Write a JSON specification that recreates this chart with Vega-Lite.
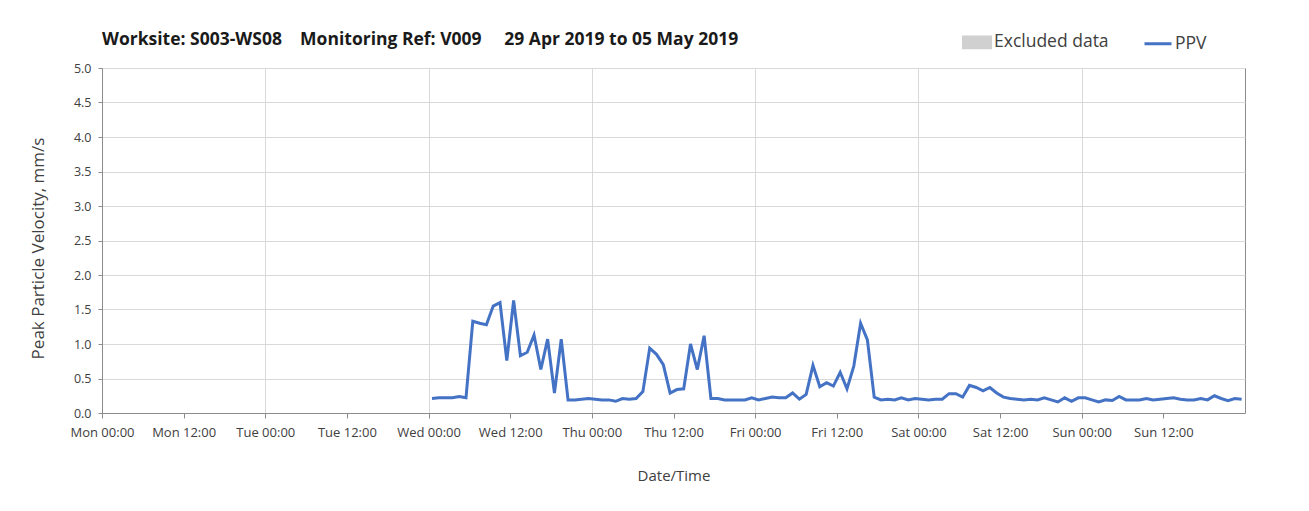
{
  "$schema": "https://vega.github.io/schema/vega-lite/v6.json",
  "autosize": "none",
  "width": 1143,
  "height": 345,
  "padding": {"left": 102, "top": 68, "right": 64, "bottom": 98},
  "background": "white",
  "config": {
    "font": "Open Sans",
    "view": {"stroke": "#8c8c8c", "strokeWidth": 1},
    "axis": {
      "domainColor": "#8c8c8c",
      "tickColor": "#8c8c8c",
      "gridColor": "#d9d9d9",
      "labelColor": "#404040",
      "titleColor": "#404040",
      "labelFont": "Open Sans",
      "titleFont": "Open Sans",
      "titleFontWeight": "normal"
    }
  },
  "title": {
    "text": "Worksite: S003-WS08\u00a0\u00a0\u00a0\u00a0Monitoring Ref: V009\u00a0\u00a0\u00a0\u00a0\u00a029 Apr 2019 to 05 May 2019",
    "anchor": "start",
    "frame": "group",
    "font": "Open Sans",
    "fontSize": 17.5,
    "fontWeight": "bold",
    "color": "#1a1a1a",
    "offset": -21
  },
  "data": {
    "values": [
      {"t": "2019-05-01T00:30:00", "v": 0.21},
      {"t": "2019-05-01T01:30:00", "v": 0.22},
      {"t": "2019-05-01T02:30:00", "v": 0.22},
      {"t": "2019-05-01T03:30:00", "v": 0.22},
      {"t": "2019-05-01T04:30:00", "v": 0.24},
      {"t": "2019-05-01T05:30:00", "v": 0.22},
      {"t": "2019-05-01T06:30:00", "v": 1.33},
      {"t": "2019-05-01T07:30:00", "v": 1.30},
      {"t": "2019-05-01T08:30:00", "v": 1.28},
      {"t": "2019-05-01T09:30:00", "v": 1.55},
      {"t": "2019-05-01T10:30:00", "v": 1.60},
      {"t": "2019-05-01T11:30:00", "v": 0.76},
      {"t": "2019-05-01T12:30:00", "v": 1.63},
      {"t": "2019-05-01T13:30:00", "v": 0.83},
      {"t": "2019-05-01T14:30:00", "v": 0.88},
      {"t": "2019-05-01T15:30:00", "v": 1.13},
      {"t": "2019-05-01T16:30:00", "v": 0.63},
      {"t": "2019-05-01T17:30:00", "v": 1.07},
      {"t": "2019-05-01T18:30:00", "v": 0.29},
      {"t": "2019-05-01T19:30:00", "v": 1.07},
      {"t": "2019-05-01T20:30:00", "v": 0.19},
      {"t": "2019-05-01T21:30:00", "v": 0.19},
      {"t": "2019-05-01T22:30:00", "v": 0.20},
      {"t": "2019-05-01T23:30:00", "v": 0.21},
      {"t": "2019-05-02T00:30:00", "v": 0.20},
      {"t": "2019-05-02T01:30:00", "v": 0.19},
      {"t": "2019-05-02T02:30:00", "v": 0.19},
      {"t": "2019-05-02T03:30:00", "v": 0.17},
      {"t": "2019-05-02T04:30:00", "v": 0.21},
      {"t": "2019-05-02T05:30:00", "v": 0.20},
      {"t": "2019-05-02T06:30:00", "v": 0.21},
      {"t": "2019-05-02T07:30:00", "v": 0.31},
      {"t": "2019-05-02T08:30:00", "v": 0.94},
      {"t": "2019-05-02T09:30:00", "v": 0.85},
      {"t": "2019-05-02T10:30:00", "v": 0.70},
      {"t": "2019-05-02T11:30:00", "v": 0.29},
      {"t": "2019-05-02T12:30:00", "v": 0.34},
      {"t": "2019-05-02T13:30:00", "v": 0.35},
      {"t": "2019-05-02T14:30:00", "v": 1.00},
      {"t": "2019-05-02T15:30:00", "v": 0.63},
      {"t": "2019-05-02T16:30:00", "v": 1.12},
      {"t": "2019-05-02T17:30:00", "v": 0.21},
      {"t": "2019-05-02T18:30:00", "v": 0.21},
      {"t": "2019-05-02T19:30:00", "v": 0.19},
      {"t": "2019-05-02T20:30:00", "v": 0.19},
      {"t": "2019-05-02T21:30:00", "v": 0.19},
      {"t": "2019-05-02T22:30:00", "v": 0.19},
      {"t": "2019-05-02T23:30:00", "v": 0.22},
      {"t": "2019-05-03T00:30:00", "v": 0.19},
      {"t": "2019-05-03T01:30:00", "v": 0.21},
      {"t": "2019-05-03T02:30:00", "v": 0.23},
      {"t": "2019-05-03T03:30:00", "v": 0.22},
      {"t": "2019-05-03T04:30:00", "v": 0.22},
      {"t": "2019-05-03T05:30:00", "v": 0.29},
      {"t": "2019-05-03T06:30:00", "v": 0.20},
      {"t": "2019-05-03T07:30:00", "v": 0.27},
      {"t": "2019-05-03T08:30:00", "v": 0.69},
      {"t": "2019-05-03T09:30:00", "v": 0.38},
      {"t": "2019-05-03T10:30:00", "v": 0.44},
      {"t": "2019-05-03T11:30:00", "v": 0.39},
      {"t": "2019-05-03T12:30:00", "v": 0.59},
      {"t": "2019-05-03T13:30:00", "v": 0.35},
      {"t": "2019-05-03T14:30:00", "v": 0.68},
      {"t": "2019-05-03T15:30:00", "v": 1.30},
      {"t": "2019-05-03T16:30:00", "v": 1.06},
      {"t": "2019-05-03T17:30:00", "v": 0.23},
      {"t": "2019-05-03T18:30:00", "v": 0.19},
      {"t": "2019-05-03T19:30:00", "v": 0.20},
      {"t": "2019-05-03T20:30:00", "v": 0.19},
      {"t": "2019-05-03T21:30:00", "v": 0.22},
      {"t": "2019-05-03T22:30:00", "v": 0.19},
      {"t": "2019-05-03T23:30:00", "v": 0.21},
      {"t": "2019-05-04T00:30:00", "v": 0.20},
      {"t": "2019-05-04T01:30:00", "v": 0.19},
      {"t": "2019-05-04T02:30:00", "v": 0.20},
      {"t": "2019-05-04T03:30:00", "v": 0.20},
      {"t": "2019-05-04T04:30:00", "v": 0.28},
      {"t": "2019-05-04T05:30:00", "v": 0.28},
      {"t": "2019-05-04T06:30:00", "v": 0.23},
      {"t": "2019-05-04T07:30:00", "v": 0.40},
      {"t": "2019-05-04T08:30:00", "v": 0.37},
      {"t": "2019-05-04T09:30:00", "v": 0.32},
      {"t": "2019-05-04T10:30:00", "v": 0.37},
      {"t": "2019-05-04T11:30:00", "v": 0.29},
      {"t": "2019-05-04T12:30:00", "v": 0.23},
      {"t": "2019-05-04T13:30:00", "v": 0.21},
      {"t": "2019-05-04T14:30:00", "v": 0.20},
      {"t": "2019-05-04T15:30:00", "v": 0.19},
      {"t": "2019-05-04T16:30:00", "v": 0.20},
      {"t": "2019-05-04T17:30:00", "v": 0.19},
      {"t": "2019-05-04T18:30:00", "v": 0.22},
      {"t": "2019-05-04T19:30:00", "v": 0.19},
      {"t": "2019-05-04T20:30:00", "v": 0.16},
      {"t": "2019-05-04T21:30:00", "v": 0.22},
      {"t": "2019-05-04T22:30:00", "v": 0.17},
      {"t": "2019-05-04T23:30:00", "v": 0.22},
      {"t": "2019-05-05T00:30:00", "v": 0.22},
      {"t": "2019-05-05T01:30:00", "v": 0.19},
      {"t": "2019-05-05T02:30:00", "v": 0.16},
      {"t": "2019-05-05T03:30:00", "v": 0.19},
      {"t": "2019-05-05T04:30:00", "v": 0.18},
      {"t": "2019-05-05T05:30:00", "v": 0.24},
      {"t": "2019-05-05T06:30:00", "v": 0.19},
      {"t": "2019-05-05T07:30:00", "v": 0.19},
      {"t": "2019-05-05T08:30:00", "v": 0.19},
      {"t": "2019-05-05T09:30:00", "v": 0.21},
      {"t": "2019-05-05T10:30:00", "v": 0.19},
      {"t": "2019-05-05T11:30:00", "v": 0.20},
      {"t": "2019-05-05T12:30:00", "v": 0.21},
      {"t": "2019-05-05T13:30:00", "v": 0.22},
      {"t": "2019-05-05T14:30:00", "v": 0.20},
      {"t": "2019-05-05T15:30:00", "v": 0.19},
      {"t": "2019-05-05T16:30:00", "v": 0.19},
      {"t": "2019-05-05T17:30:00", "v": 0.21},
      {"t": "2019-05-05T18:30:00", "v": 0.19},
      {"t": "2019-05-05T19:30:00", "v": 0.25},
      {"t": "2019-05-05T20:30:00", "v": 0.21},
      {"t": "2019-05-05T21:30:00", "v": 0.18},
      {"t": "2019-05-05T22:30:00", "v": 0.21},
      {"t": "2019-05-05T23:30:00", "v": 0.20}
    ]
  },
  "mark": {"type": "line", "strokeWidth": 3, "interpolate": "linear"},
  "encoding": {
    "x": {
      "field": "t",
      "type": "temporal",
      "title": "Date/Time",
      "scale": {"domain": [
        {"year": 2019, "month": 4, "date": 29, "hours": 0},
        {"year": 2019, "month": 5, "date": 6, "hours": 0}
      ]},
      "axis": {
        "values": [
          {"year": 2019, "month": 4, "date": 29, "hours": 0},
          {"year": 2019, "month": 4, "date": 29, "hours": 12},
          {"year": 2019, "month": 4, "date": 30, "hours": 0},
          {"year": 2019, "month": 4, "date": 30, "hours": 12},
          {"year": 2019, "month": 5, "date": 1, "hours": 0},
          {"year": 2019, "month": 5, "date": 1, "hours": 12},
          {"year": 2019, "month": 5, "date": 2, "hours": 0},
          {"year": 2019, "month": 5, "date": 2, "hours": 12},
          {"year": 2019, "month": 5, "date": 3, "hours": 0},
          {"year": 2019, "month": 5, "date": 3, "hours": 12},
          {"year": 2019, "month": 5, "date": 4, "hours": 0},
          {"year": 2019, "month": 5, "date": 4, "hours": 12},
          {"year": 2019, "month": 5, "date": 5, "hours": 0},
          {"year": 2019, "month": 5, "date": 5, "hours": 12}
        ],
        "format": "%a %H:%M",
        "labelFontSize": 13,
        "labelPadding": 8,
        "tickSize": 5,
        "labelFlush": false,
        "labelOverlap": false,
        "grid": true,
        "gridOpacity": {"condition": {"test": "hours(datum.value) == 12", "value": 0}, "value": 1},
        "titleFontSize": 15,
        "titlePadding": 29
      }
    },
    "y": {
      "field": "v",
      "type": "quantitative",
      "title": "Peak Particle Velocity, mm/s",
      "scale": {"domain": [0, 5], "nice": false},
      "axis": {
        "values": [0, 0.5, 1, 1.5, 2, 2.5, 3, 3.5, 4, 4.5, 5],
        "format": ".1f",
        "labelFontSize": 12.5,
        "labelPadding": 7,
        "tickSize": 4,
        "titleFontSize": 17,
        "titlePadding": 26,
        "titleY": 180
      }
    },
    "color": {
      "datum": "PPV",
      "type": "nominal",
      "scale": {"domain": ["Excluded data", "PPV"], "range": ["#d0d0d0", "#4472c4"]},
      "legend": {
        "orient": "none",
        "legendX": 860,
        "legendY": -41,
        "direction": "horizontal",
        "title": null,
        "labelFont": "Open Sans",
        "labelFontSize": 17.5,
        "labelColor": "#404040",
        "symbolSize": 729,
        "labelOffset": 2,
        "columnPadding": 29,
        "encode": {
          "symbols": {
            "update": {
              "shape": {"signal": "datum.value === 'PPV' ? 'M-1,0H1' : 'M-1,-0.4H1V0.4H-1Z'"},
              "fill": {"signal": "datum.value === 'PPV' ? 'transparent' : '#d0d0d0'"},
              "stroke": {"signal": "datum.value === 'PPV' ? '#4472c4' : 'transparent'"},
              "strokeWidth": {"value": 3},
              "opacity": {"value": 1}
            }
          }
        }
      }
    }
  }
}
